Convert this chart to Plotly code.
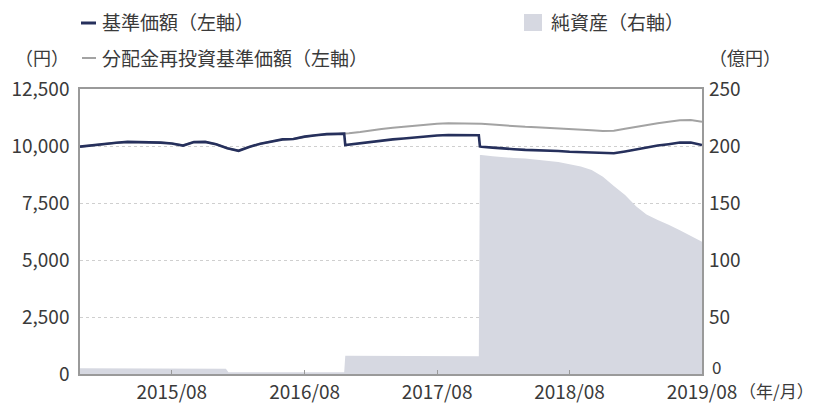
import plotly.graph_objects as go

# ---- data ----
dates = ["2014-11-21", "2014-12-01",
         "2015-01-01", "2015-02-01", "2015-03-01", "2015-04-01", "2015-05-01", "2015-06-01",
         "2015-07-01", "2015-08-01", "2015-09-01", "2015-10-01", "2015-11-01", "2015-12-01",
         "2016-01-01", "2016-02-01", "2016-03-01", "2016-04-01", "2016-05-01", "2016-06-01",
         "2016-07-01", "2016-08-01", "2016-09-01", "2016-10-01", "2016-11-01", "2016-11-18",
         "2016-11-21", "2016-12-01",
         "2017-01-01", "2017-02-01", "2017-03-01", "2017-04-01", "2017-05-01", "2017-06-01",
         "2017-07-01", "2017-08-01", "2017-09-01", "2017-10-01", "2017-11-01", "2017-11-24",
         "2017-11-27", "2017-12-01",
         "2018-01-01", "2018-02-01", "2018-03-01", "2018-04-01", "2018-05-01", "2018-06-01",
         "2018-07-01", "2018-08-01", "2018-09-01", "2018-10-01", "2018-11-01", "2018-12-01",
         "2019-01-01", "2019-02-01", "2019-03-01", "2019-04-01", "2019-05-01", "2019-06-01",
         "2019-07-01", "2019-08-01"]

nav = [9970, 9990,
       10040, 10080, 10140, 10180, 10170, 10190,
       10150, 10110, 10020, 10170, 10180, 10080,
       9900, 9790, 9960, 10100, 10200, 10290,
       10310, 10410, 10470, 10520, 10530, 10540,
       10040, 10060,
       10110, 10180, 10240, 10290, 10330, 10380,
       10420, 10460, 10480, 10470, 10490, 10470,
       9980, 9970,
       9930, 9880, 9860, 9830, 9820, 9800,
       9780, 9750, 9730, 9700, 9670, 9680,
       9760, 9850, 9940, 10020, 10080, 10150,
       10150, 10040]

reinvest = [9970, 9990,
            10040, 10080, 10140, 10180, 10170, 10190,
            10150, 10110, 10020, 10170, 10180, 10080,
            9900, 9790, 9960, 10100, 10200, 10290,
            10310, 10410, 10470, 10520, 10530, 10540,
            10540, 10560,
            10610, 10690, 10750, 10800, 10850, 10900,
            10940, 10980, 11000, 10990, 11010, 10990,
            10990, 10980,
            10940, 10900, 10870, 10840, 10820, 10800,
            10780, 10750, 10720, 10690, 10660, 10670,
            10760, 10850, 10930, 11000, 11060, 11130,
            11140, 11060]

asset_dates = ["2014-11-21", "2015-06-01", "2015-12-28", "2016-01-04", "2016-11-18",
               "2016-11-21", "2017-11-24", "2017-11-27", "2017-12-01",
               "2018-01-01", "2018-02-01", "2018-03-01", "2018-04-01", "2018-05-01",
               "2018-06-01", "2018-07-01", "2018-08-01", "2018-09-01", "2018-10-01",
               "2018-11-01", "2018-12-01", "2019-01-01", "2019-02-01", "2019-03-01",
               "2019-04-01", "2019-05-01", "2019-06-01", "2019-07-01", "2019-08-01"]
net_assets = [5, 5, 4.5, 1.5, 1.5,
              16, 15.5, 192, 192,
              191, 190, 189.5, 189, 188,
              187, 186, 184, 182, 179,
              173, 165, 157, 147, 140,
              135, 131, 126, 121, 116]

x_ticks = ["2015-08-01", "2016-08-01", "2017-08-01", "2018-08-01", "2019-08-01"]
x_tick_text = ["2015/08", "2016/08", "2017/08", "2018/08", "2019/08"]
left_ticks = [0, 2500, 5000, 7500, 10000, 12500]
right_ticks = [0, 50, 100, 150, 200, 250]
# the right-axis "0" is drawn separately, slightly raised, as in the original
right_tick_text = [""] + [str(v) for v in right_ticks[1:]]

NAVY = "#26305c"
GRAY = "#a3a3a3"
FILL = "#d6d8e1"
TXT = "#3a3a3a"
FONT = "Noto Sans CJK JP"

# the page body adds an 8px offset; all positions below are page pixels
OFF = 8
PAGE_W, PAGE_H = 817, 403
W, H = PAGE_W - OFF, PAGE_H - OFF
L, R, T, B = 80, 702, 89, 374  # plot area in page pixels


def px(x):
    return (x - L) / (R - L)


def py(y):
    return (B - y) / (B - T)


fig = go.Figure()
fig.add_trace(go.Scatter(x=asset_dates, y=net_assets, yaxis="y2", mode="lines",
                         line=dict(width=0, color=FILL), fill="tozeroy",
                         fillcolor=FILL, hoverinfo="skip", showlegend=False))
fig.add_trace(go.Scatter(x=dates, y=reinvest, mode="lines",
                         line=dict(color=GRAY, width=2), showlegend=False))
fig.add_trace(go.Scatter(x=dates, y=nav, mode="lines",
                         line=dict(color=NAVY, width=2.6), showlegend=False))

fig.update_layout(
    width=W, height=H,
    margin=dict(l=L - OFF, r=PAGE_W - R, t=T - OFF, b=PAGE_H - B, pad=0, autoexpand=False),
    paper_bgcolor="white", plot_bgcolor="white",
    font=dict(family=FONT, size=19, color=TXT),
    xaxis=dict(range=["2014-11-21", "2019-08-01"], tickvals=x_ticks, ticktext=x_tick_text,
               showgrid=False, showline=True, linecolor="#9a9a9a", linewidth=1.5,
               mirror=True, ticks="inside", ticklen=4, tickcolor="#9a9a9a",
               tickfont=dict(size=19), ticklabelstandoff=0, automargin=False),
    yaxis=dict(range=[0, 12500], tickvals=left_ticks, tickformat=",d",
               showgrid=True, gridcolor="#cfcfcf", griddash="dot", gridwidth=1,
               showline=True, linecolor="#9a9a9a", linewidth=1.5, mirror=True,
               ticks="", zeroline=False, tickfont=dict(size=19), ticklabelstandoff=5,
               automargin=False),
    yaxis2=dict(range=[0, 250], tickvals=right_ticks, ticktext=right_tick_text,
                overlaying="y", side="right",
                showgrid=False, showline=False, zeroline=False, ticks="",
                tickfont=dict(size=19), ticklabelstandoff=6, automargin=False),
    hovermode=False,
)

# legend and axis unit labels
ann = [
    ("基準価額（左軸）", 100, 22, "left", 19),
    ("分配金再投資基準価額（左軸）", 100, 57, "left", 19),
    ("（円）", 42, 57, "center", 18),
    ("純資産（右軸）", 549, 22, "left", 19),
    ("（億円）", 745, 57, "center", 18),
    ("（年/月）", 816, 390, "right", 17),
    (str(right_ticks[0]), 710, 366, "left", 17),
]
for text, x, y, anchor, size in ann:
    fig.add_annotation(text=text, x=px(x), y=py(y), xref="paper", yref="paper",
                       xanchor=anchor, yanchor="middle", showarrow=False,
                       font=dict(family=FONT, size=size, color=TXT))

fig.add_shape(type="line", xref="paper", yref="paper", x0=px(81), x1=px(96),
              y0=py(23), y1=py(23), line=dict(color=NAVY, width=3))
fig.add_shape(type="line", xref="paper", yref="paper", x0=px(82), x1=px(96),
              y0=py(58), y1=py(58), line=dict(color=GRAY, width=2))
fig.add_shape(type="rect", xref="paper", yref="paper", x0=px(524), x1=px(542),
              y0=py(14), y1=py(31), line=dict(width=0), fillcolor=FILL)

fig.write_html("out.html")
